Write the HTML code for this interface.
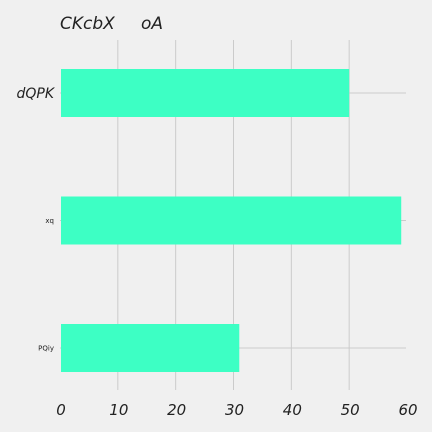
<!DOCTYPE html>
<html><head><meta charset="utf-8"><style>
body{margin:0;background:#f0f0f0;}
svg{display:block;font-family:"DejaVu Sans","Liberation Sans",sans-serif;}
</style></head><body>
<svg width="432" height="432">
<rect width="432" height="432" fill="#f0f0f0"/>
<text x="60" y="29" font-size="17" font-style="italic" fill="#222"><tspan>CKcbX</tspan><tspan x="141">oA</tspan></text>
<g id="grid"></g><g id="bars"></g><g id="labels"></g>
</svg>
<script>
const categories=["dQPK","xq","PQiy"];
const values=[50,59,31];
const labelSizes=[14,7,7];
const ticks=[0,10,20,30,40,50,60];
const x0=60,x1=407,xmax=60;
const xs=v=>x0+(x1-x0)*v/xmax;
const yc=i=>93+i*127.5;
const ns="http://www.w3.org/2000/svg";
const g=document.getElementById('grid'),b=document.getElementById('bars'),l=document.getElementById('labels');
function mk(t,a,p){const e=document.createElementNS(ns,t);for(const k in a)e.setAttribute(k,a[k]);p.appendChild(e);return e;}
ticks.forEach(t=>{
 if(t>0&&t<60){const ln=mk('line',{x1:xs(t),x2:xs(t),y1:40,y2:390,stroke:'#cbcbcb','stroke-width':1},g);
 
 }
 const tx=mk('text',{x:xs(t)+1,y:415,'font-size':15,'font-style':'italic','text-anchor':'middle',fill:'#222'},l);
 tx.textContent=t;
 
 
});
categories.forEach((c,i)=>{
 const gl=mk('line',{x1:x0,x2:406,y1:yc(i),y2:yc(i),stroke:'#cbcbcb','stroke-width':1},g);
 
 
 const r=mk('rect',{x:x0+1,y:yc(i)-24,width:xs(values[i])-x0-1,height:48,fill:'#3dffc4'},b);
 
 
 const tx=mk('text',{x:54,y:yc(i)+labelSizes[i]*0.35,'font-size':labelSizes[i],'font-style':labelSizes[i]>10?'italic':'normal','text-anchor':'end',fill:'#222'},l);
 tx.textContent=c;
 
 
});
</script>
</body></html>
